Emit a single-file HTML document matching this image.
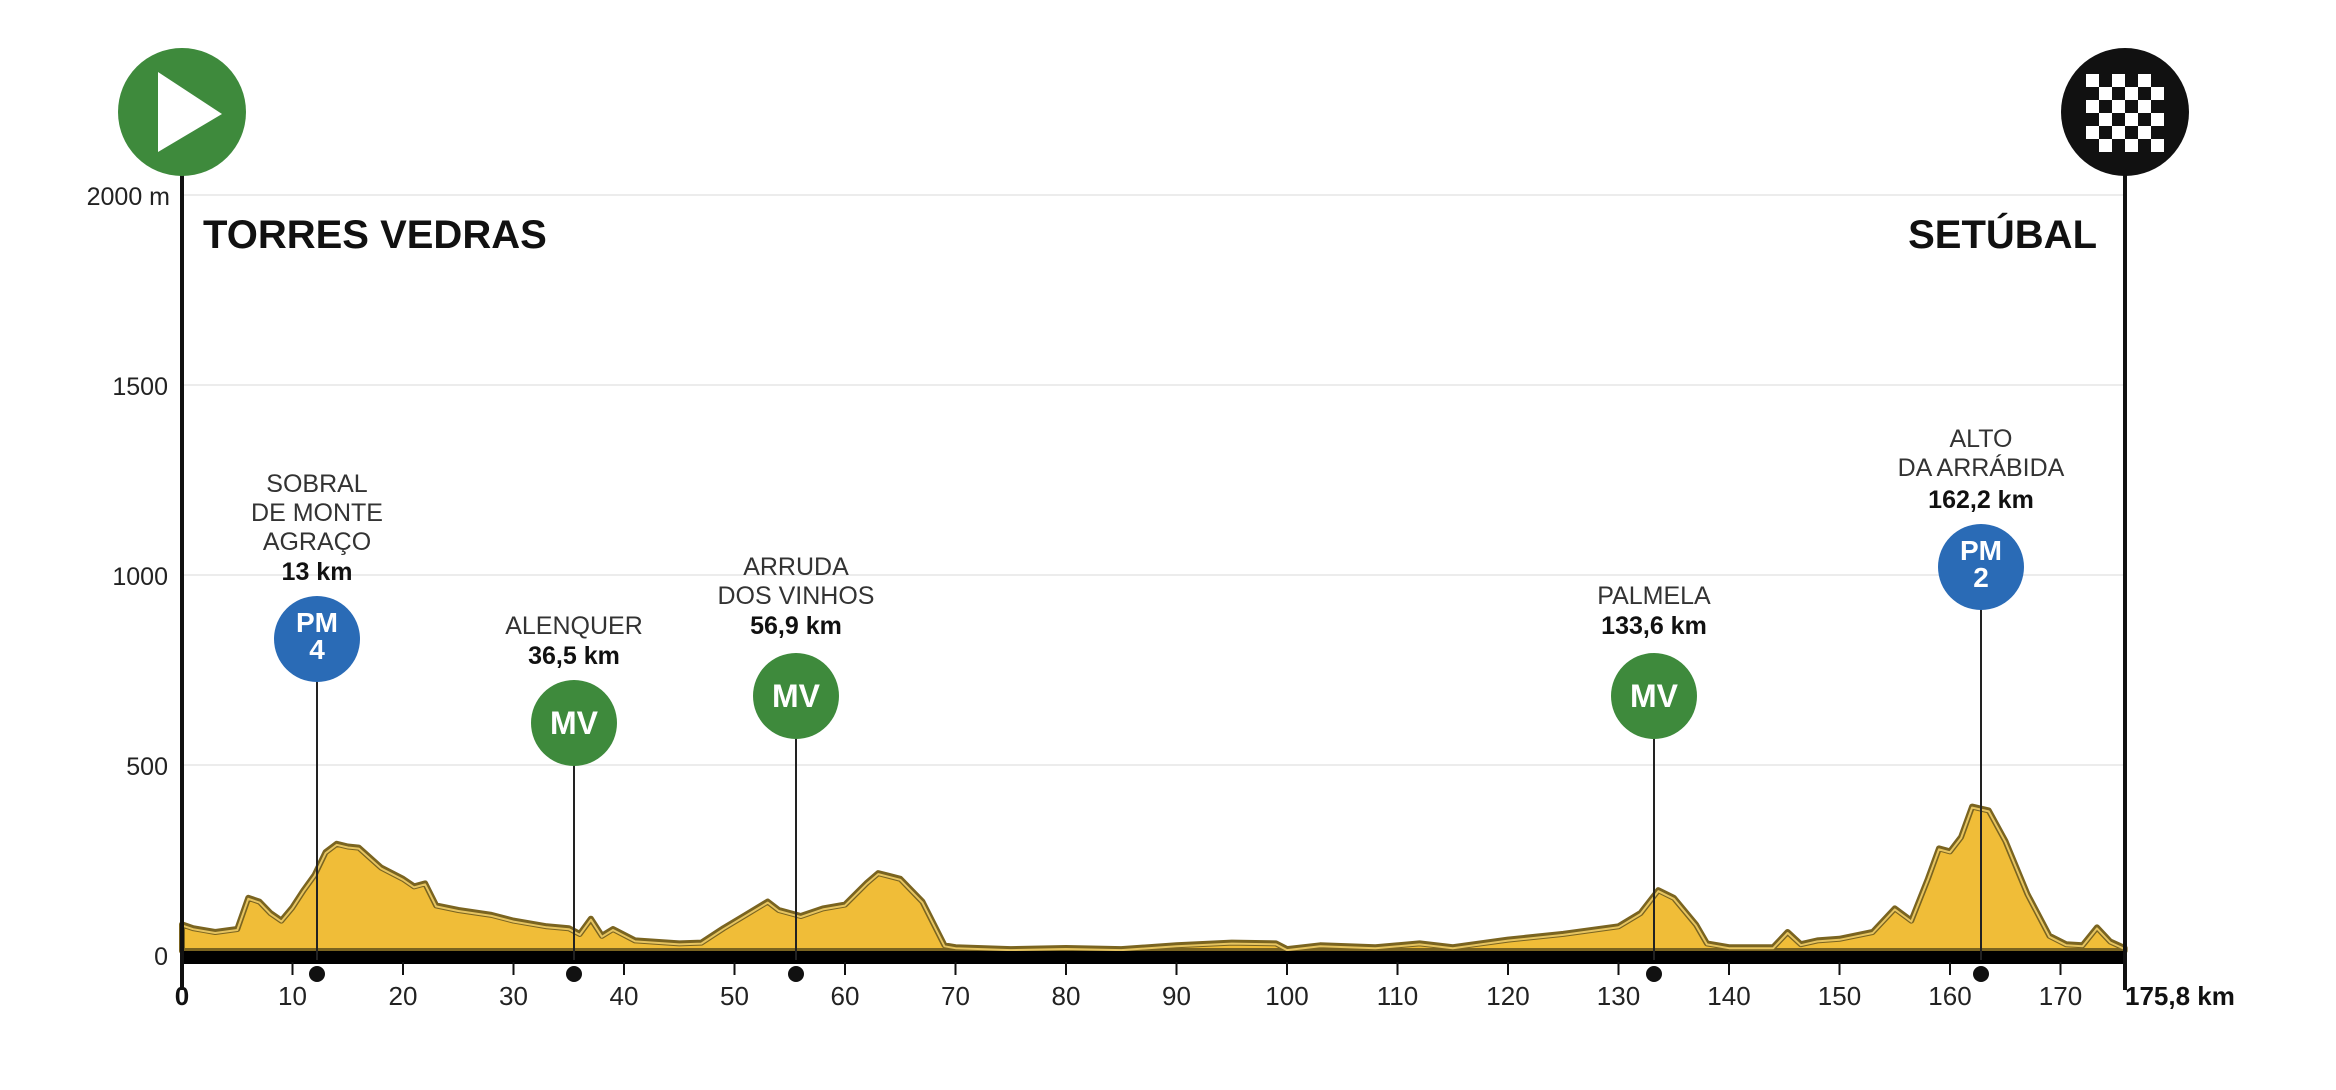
<!DOCTYPE html>
<html><head><meta charset="utf-8"><style>
html,body{margin:0;padding:0;background:#fff;width:2336px;height:1090px;overflow:hidden}
svg text{font-family:"Liberation Sans",sans-serif}
</style></head><body>
<svg id="s" width="2336" height="1090" viewBox="0 0 2336 1090" xmlns="http://www.w3.org/2000/svg">
<g stroke="#ececec" stroke-width="2">
<line x1="182" y1="195" x2="2125" y2="195"/><line x1="182" y1="385" x2="2125" y2="385"/>
<line x1="182" y1="575" x2="2125" y2="575"/><line x1="182" y1="765" x2="2125" y2="765"/>
</g>
<g font-size="25" fill="#222" text-anchor="end">
<text x="170" y="205">2000 m</text><text x="168" y="395">1500</text><text x="168" y="585">1000</text><text x="168" y="775">500</text><text x="168" y="965">0</text>
</g>
<path id="prof" d="" fill="#f0bd38" stroke="#7a6420" stroke-width="6" stroke-linejoin="round"/>
<path id="prof2" d="" fill="none" stroke="#e6c460" stroke-width="2" stroke-linejoin="round"/>
<rect x="182" y="951" width="1943" height="13" fill="#000"/>
<line x1="182" y1="175" x2="182" y2="990" stroke="#111" stroke-width="4"/>
<line x1="2125" y1="175" x2="2125" y2="990" stroke="#111" stroke-width="4"/>
<circle cx="182" cy="112" r="64" fill="#3e8a3c"/>
<polygon points="158,72 158,152 222,114" fill="#fff"/>
<circle cx="2125" cy="112" r="64" fill="#111"/>
<g id="chk" fill="#fff"></g>
<text x="203" y="248" font-size="40" font-weight="bold" fill="#111">TORRES VEDRAS</text>
<text x="2097" y="248" font-size="40" font-weight="bold" fill="#111" text-anchor="end">SETÚBAL</text>
<g id="ticks" stroke="#111" stroke-width="2"></g>
<g id="tl" font-size="26" fill="#222" text-anchor="middle"></g>
<text x="2125" y="1005" font-size="26" font-weight="bold" fill="#111">175,8 km</text>
<g stroke="#222" stroke-width="2">
<line x1="317" y1="640" x2="317" y2="960"/><line x1="574" y1="723" x2="574" y2="960"/>
<line x1="796" y1="696" x2="796" y2="960"/><line x1="1654" y1="696" x2="1654" y2="960"/>
<line x1="1981" y1="567" x2="1981" y2="960"/>
</g>
<g fill="#111"><circle cx="317" cy="974" r="8"/><circle cx="574" cy="974" r="8"/><circle cx="796" cy="974" r="8"/><circle cx="1654" cy="974" r="8"/><circle cx="1981" cy="974" r="8"/></g>
<g font-weight="bold" fill="#fff" text-anchor="middle">
<circle cx="317" cy="639" r="43" fill="#2a6bb6"/><text x="317" y="632" font-size="28" fill="#fff">PM</text><text x="317" y="659" font-size="28" fill="#fff">4</text>
<circle cx="574" cy="723" r="43" fill="#3e8a3c"/><text x="574" y="734" font-size="32" fill="#fff">MV</text>
<circle cx="796" cy="696" r="43" fill="#3e8a3c"/><text x="796" y="707" font-size="32" fill="#fff">MV</text>
<circle cx="1654" cy="696" r="43" fill="#3e8a3c"/><text x="1654" y="707" font-size="32" fill="#fff">MV</text>
<circle cx="1981" cy="567" r="43" fill="#2a6bb6"/><text x="1981" y="560" font-size="28" fill="#fff">PM</text><text x="1981" y="587" font-size="28" fill="#fff">2</text>
</g>
<g font-size="25" fill="#333" text-anchor="middle">
<text x="317" y="492">SOBRAL</text><text x="317" y="521">DE MONTE</text><text x="317" y="550">AGRAÇO</text>
<text x="574" y="634">ALENQUER</text>
<text x="796" y="575">ARRUDA</text><text x="796" y="604">DOS VINHOS</text>
<text x="1654" y="604">PALMELA</text>
<text x="1981" y="447">ALTO</text><text x="1981" y="476">DA ARRÁBIDA</text>
</g>
<g font-size="25" font-weight="bold" fill="#111" text-anchor="middle">
<text x="317" y="580">13 km</text><text x="574" y="664">36,5 km</text><text x="796" y="634">56,9 km</text>
<text x="1654" y="634">133,6 km</text><text x="1981" y="508">162,2 km</text>
</g>
</svg>
<script>
var d=[[0,70],[1,60],[2,55],[3,50],[5,58],[6,140],[7,130],[8,100],[9,80],[10,115],[11,160],[12,200],[13,260],[14,282],[15,275],[16,272],[18,220],[20,190],[21,170],[22,178],[23,120],[25,108],[28,95],[30,80],[33,65],[35,60],[36,45],[37,85],[38,40],[39,58],[41,28],[45,20],[47,22],[49,60],[51,95],[53,130],[54,108],[56,92],[58,112],[60,122],[62,180],[63,205],[65,190],[67,130],[69,15],[70,10],[75,5],[80,8],[85,5],[90,15],[95,22],[99,20],[100,5],[103,15],[108,10],[112,20],[115,10],[120,30],[125,45],[130,65],[132,100],[133.6,160],[135,140],[137,70],[138,20],[140,10],[144,10],[145.3,50],[146.5,18],[148,28],[150,32],[153,50],[155,112],[156.5,80],[158,190],[159,270],[160,262],[161,300],[162,380],[163.5,370],[165,290],[167,150],[169,40],[170.5,18],[172,15],[173.3,62],[174.5,25],[175.8,8]];
function X(k){return 182+k*11.05}function Y(e){return 951-e*0.38}
var p="M"+X(0)+" 951 "+d.map(function(a){return "L"+X(a[0]).toFixed(1)+" "+Y(a[1]).toFixed(1)}).join(" ")+" L"+X(175.8)+" 951Z";
document.getElementById("prof").setAttribute("d",p);
var p2="M"+d.map(function(a){return X(a[0]).toFixed(1)+" "+(Y(a[1])+1).toFixed(1)}).join(" L");
document.getElementById("prof2").setAttribute("d",p2);
var t="",l="";for(var k=0;k<=170;k+=10){var x=X(k);t+='<line x1="'+x+'" y1="962" x2="'+x+'" y2="975"/>';l+='<text x="'+x+'" y="1005"'+(k==0?' font-weight="bold" fill="#111"':'')+'>'+k+'</text>';}
document.getElementById("ticks").innerHTML=t;document.getElementById("tl").innerHTML=l;
var c="";for(var i=0;i<6;i++)for(var j=0;j<6;j++)if((i+j)%2==0)c+='<rect x="'+(2086+j*13)+'" y="'+(74+i*13)+'" width="13" height="13"/>';
document.getElementById("chk").innerHTML=c;
</script>
</body></html>
